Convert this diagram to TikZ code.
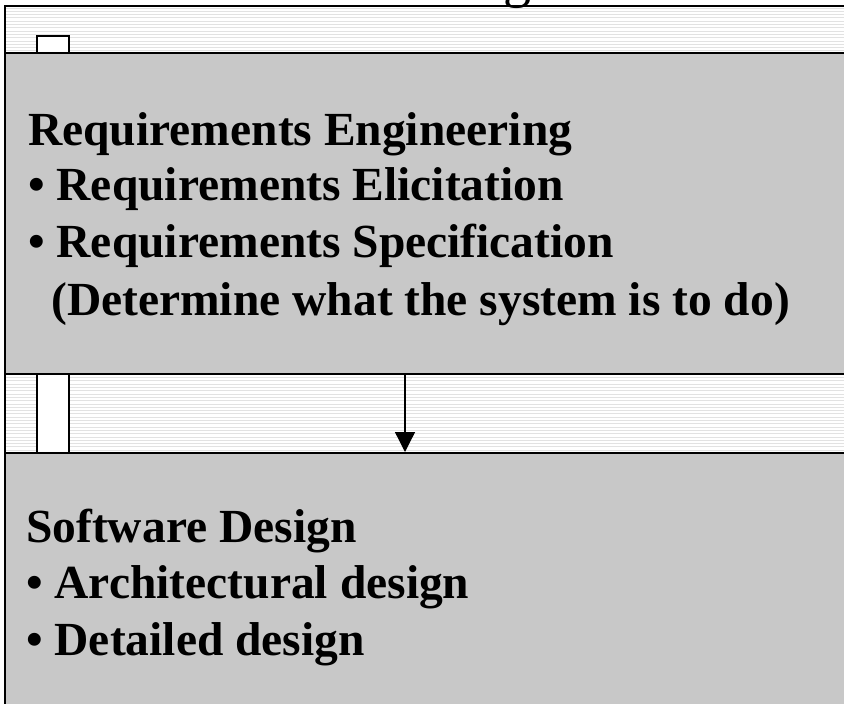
\documentclass[tikz,border=0pt]{standalone}
\usepackage{fontspec}
\setmainfont{Liberation Serif}
\usetikzlibrary{arrows.meta}
\definecolor{boxgray}{HTML}{C8C8C8}
\definecolor{stripegray}{HTML}{E2E2E2}
\begin{document}
\begin{tikzpicture}[x=1pt,y=-1pt,
  stripe/.style={draw=stripegray, line width=1pt},
  frameline/.style={draw=black, line width=2pt},
  stagebox/.style={draw=black, line width=2pt, fill=boxgray, inner sep=0pt, minimum width=855pt},
  tab/.style={draw=black, line width=2pt, fill=white},
  txt/.style={font=\fontsize{47.5}{56}\selectfont\bfseries, anchor=base west, inner sep=0pt},
  arr/.style={draw=black, line width=1.3pt, -{Triangle[length=20pt,width=20pt]}}]
\useasboundingbox (0,0) rectangle (844,704);
\fill[white] (0,0) rectangle (844,704);
\foreach \k in {0,...,211} \draw[stripe] (5,{8+3.3*\k}) -- (850,{8+3.3*\k});
\draw[frameline] (5,710) -- (5,5.5) -- (850,5.5);
\node[font=\fontsize{56}{60}\selectfont, anchor=base, inner sep=0pt] (ttl) at (517,-3) {g};
\draw[tab] (37,36) rectangle (69,53);
\draw[tab] (37,374) rectangle (69,453);
\node[stagebox, minimum height=321pt] (req) at (432.5,213.5) {};
\node[stagebox, minimum height=267pt] (des) at (432.5,586.5) {};
\node[txt] (r1) at (28,145) {Requirements Engineering};
\node[txt] (r2) at (28,200) {• Requirements Elicitation};
\node[txt] (r3) at (28,257) {• Requirements Specification};
\node[txt] (r4) at (51,315) {(Determine what the system is to do)};
\node[txt] (d1) at (26,542) {Software Design};
\node[txt] (d2) at (26,598) {• Architectural design};
\node[txt] (d3) at (26,655) {• Detailed design};
\coordinate (ax) at (405,0);
\draw[arr] (req.south -| ax) -- (des.north -| ax);
\end{tikzpicture}
\end{document}
